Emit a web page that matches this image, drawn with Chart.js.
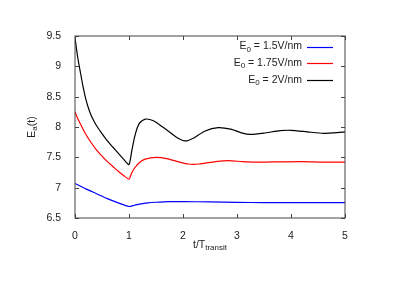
<!DOCTYPE html>
<html>
<head>
<meta charset="utf-8">
<script src="https://cdn.jsdelivr.net/npm/chart.js@4/dist/chart.umd.min.js"></script>
<style>
  html, body { margin: 0; padding: 0; background: #fff; }
  canvas { display: block; }
</style>
</head>
<body>
<canvas id="chart" width="398" height="281"></canvas>
<script>
// Time axis in units of the transit time, E_a(t).
const T_LOW = [0, 0.2, 0.4, 0.6, 0.8, 1.0, 1.1, 1.2, 1.35, 1.5, 1.75, 2.0, 2.5, 3.0, 3.5, 4.0, 4.5, 5.0];
const E_LOW = [7.07, 6.98, 6.9, 6.82, 6.75, 6.69, 6.71, 6.73, 6.75, 6.76, 6.77, 6.77, 6.765, 6.757, 6.755, 6.755, 6.755, 6.755];

const T_MID = [0, 0.05, 0.1, 0.2, 0.3, 0.4, 0.5, 0.6, 0.7, 0.8, 0.9, 1.0, 1.05, 1.1, 1.2, 1.3, 1.5, 1.7, 1.9, 2.1, 2.3, 2.6, 2.85, 3.1, 3.4, 3.8, 4.2, 4.6, 5.0];
const E_MID = [8.25, 8.14, 8.05, 7.88, 7.74, 7.62, 7.52, 7.43, 7.35, 7.27, 7.2, 7.14, 7.24, 7.32, 7.42, 7.47, 7.5, 7.48, 7.43, 7.39, 7.39, 7.43, 7.445, 7.43, 7.42, 7.425, 7.43, 7.42, 7.42];

const T_HIGH = [0, 0.05, 0.1, 0.15, 0.2, 0.25, 0.3, 0.35, 0.4, 0.5, 0.6, 0.7, 0.8, 0.9, 1.0, 1.05, 1.1, 1.15, 1.2, 1.3, 1.4, 1.5, 1.7, 1.9, 2.05, 2.2, 2.4, 2.65, 2.9, 3.1, 3.25, 3.5, 3.8, 4.0, 4.3, 4.6, 5.0];
const E_HIGH = [9.47, 9.15, 8.9, 8.66, 8.46, 8.31, 8.19, 8.1, 8.02, 7.89, 7.77, 7.67, 7.57, 7.47, 7.38, 7.6, 7.82, 7.98, 8.07, 8.13, 8.12, 8.08, 7.95, 7.82, 7.77, 7.82, 7.93, 7.99, 7.96, 7.9, 7.88, 7.9, 7.94, 7.945, 7.92, 7.895, 7.92];

const FIELDS = ["1.5", "1.75", "2"];
const COLORS = ["#0000ff", "#ff0000", "#000000"];

const X_TICKS = [0, 1, 2, 3, 4, 5];
const Y_TICKS = [6.5, 7, 7.5, 8, 8.5, 9, 9.5];

const FONT = "'Liberation Sans', Arial, sans-serif";
const TEXT = "#222";

function toPoints(ts, es) {
  return ts.map((t, i) => ({ x: t, y: es[i] }));
}

function curve(ts, es, color) {
  return {
    data: toPoints(ts, es),
    borderColor: color,
    borderWidth: 1.2,
    pointRadius: 0,
    fill: false,
    tension: 0.2,
  };
}

/** Measure / draw text made of [text, isSubscript] parts. */
function richWidth(ctx, parts) {
  let w = 0;
  parts.forEach(([s, sub]) => {
    ctx.font = (sub ? "8px " : "10.5px ") + FONT;
    w += ctx.measureText(s).width;
  });
  return w;
}

function drawRich(ctx, parts, x, y, align) {
  const w = richWidth(ctx, parts);
  let cx = align === "right" ? x - w : align === "center" ? x - w / 2 : x;
  ctx.textAlign = "left";
  ctx.textBaseline = "middle";
  parts.forEach(([s, sub]) => {
    ctx.font = (sub ? "8px " : "10.5px ") + FONT;
    ctx.fillText(s, cx, y + (sub ? 3 : 0));
    cx += ctx.measureText(s).width;
  });
}

// gnuplot-like frame: border, inward ticks on all sides, titles, key.
const framePlugin = {
  id: "frame",
  afterDraw(chart) {
    const { ctx, chartArea: a, scales } = chart;
    const x = scales.x, y = scales.y;
    ctx.save();
    ctx.strokeStyle = "#444";
    ctx.lineWidth = 1;
    ctx.strokeRect(a.left, a.top, a.right - a.left, a.bottom - a.top);

    ctx.beginPath();
    Y_TICKS.forEach((v) => {
      const py = Math.round(y.getPixelForValue(v)) + 0.5;
      ctx.moveTo(a.left, py); ctx.lineTo(a.left + 4, py);
      ctx.moveTo(a.right, py); ctx.lineTo(a.right - 4, py);
    });
    X_TICKS.forEach((v) => {
      const px = Math.round(x.getPixelForValue(v)) + 0.5;
      ctx.moveTo(px, a.bottom); ctx.lineTo(px, a.bottom - 4);
      ctx.moveTo(px, a.top); ctx.lineTo(px, a.top + 4);
    });
    ctx.stroke();

    ctx.fillStyle = TEXT;
    // x title
    drawRich(ctx, [["t/T", false], ["transit", true]], 210, 245, "center");
    // y title
    ctx.save();
    ctx.translate(32, 127);
    ctx.rotate(-Math.PI / 2);
    drawRich(ctx, [["E", false], ["a", true], ["(t)", false]], 0, 0, "center");
    ctx.restore();

    // key
    FIELDS.forEach((f, i) => {
      const ry = 46.5 + i * 16.7;
      ctx.fillStyle = TEXT;
      drawRich(ctx, [["E", false], ["0", true], [" = " + f + "V/nm", false]], 302, ry, "right");
      ctx.strokeStyle = COLORS[i];
      ctx.lineWidth = 1.2;
      ctx.beginPath();
      ctx.moveTo(307, Math.round(ry) + 0.5);
      ctx.lineTo(333, Math.round(ry) + 0.5);
      ctx.stroke();
    });
    ctx.restore();
  },
};

new Chart(document.getElementById("chart"), {
  type: "line",
  data: {
    datasets: [
      curve(T_LOW, E_LOW, COLORS[0]),
      curve(T_MID, E_MID, COLORS[1]),
      curve(T_HIGH, E_HIGH, COLORS[2]),
    ],
  },
  options: {
    responsive: false,
    animation: false,
    layout: { padding: { top: 36, right: 53, left: 0, bottom: 0 } },
    plugins: { legend: { display: false }, tooltip: { enabled: false } },
    scales: {
      x: {
        type: "linear",
        min: 0,
        max: 5,
        grid: { display: false },
        border: { display: false },
        afterBuildTicks: (s) => { s.ticks = X_TICKS.map((v) => ({ value: v })); },
        afterFit: (s) => { s.height = 63; },
        ticks: { color: TEXT, padding: 4, maxRotation: 0, callback: (v) => String(v), font: { family: FONT, size: 10.5 } },
      },
      y: {
        type: "linear",
        min: 6.5,
        max: 9.5,
        grid: { display: false },
        border: { display: false },
        afterBuildTicks: (s) => { s.ticks = Y_TICKS.map((v) => ({ value: v })); },
        afterFit: (s) => { s.width = 75; },
        ticks: { color: TEXT, padding: 6, callback: (v) => String(v), font: { family: FONT, size: 10.5 } },
      },
    },
  },
  plugins: [framePlugin],
});
</script>
</body>
</html>
